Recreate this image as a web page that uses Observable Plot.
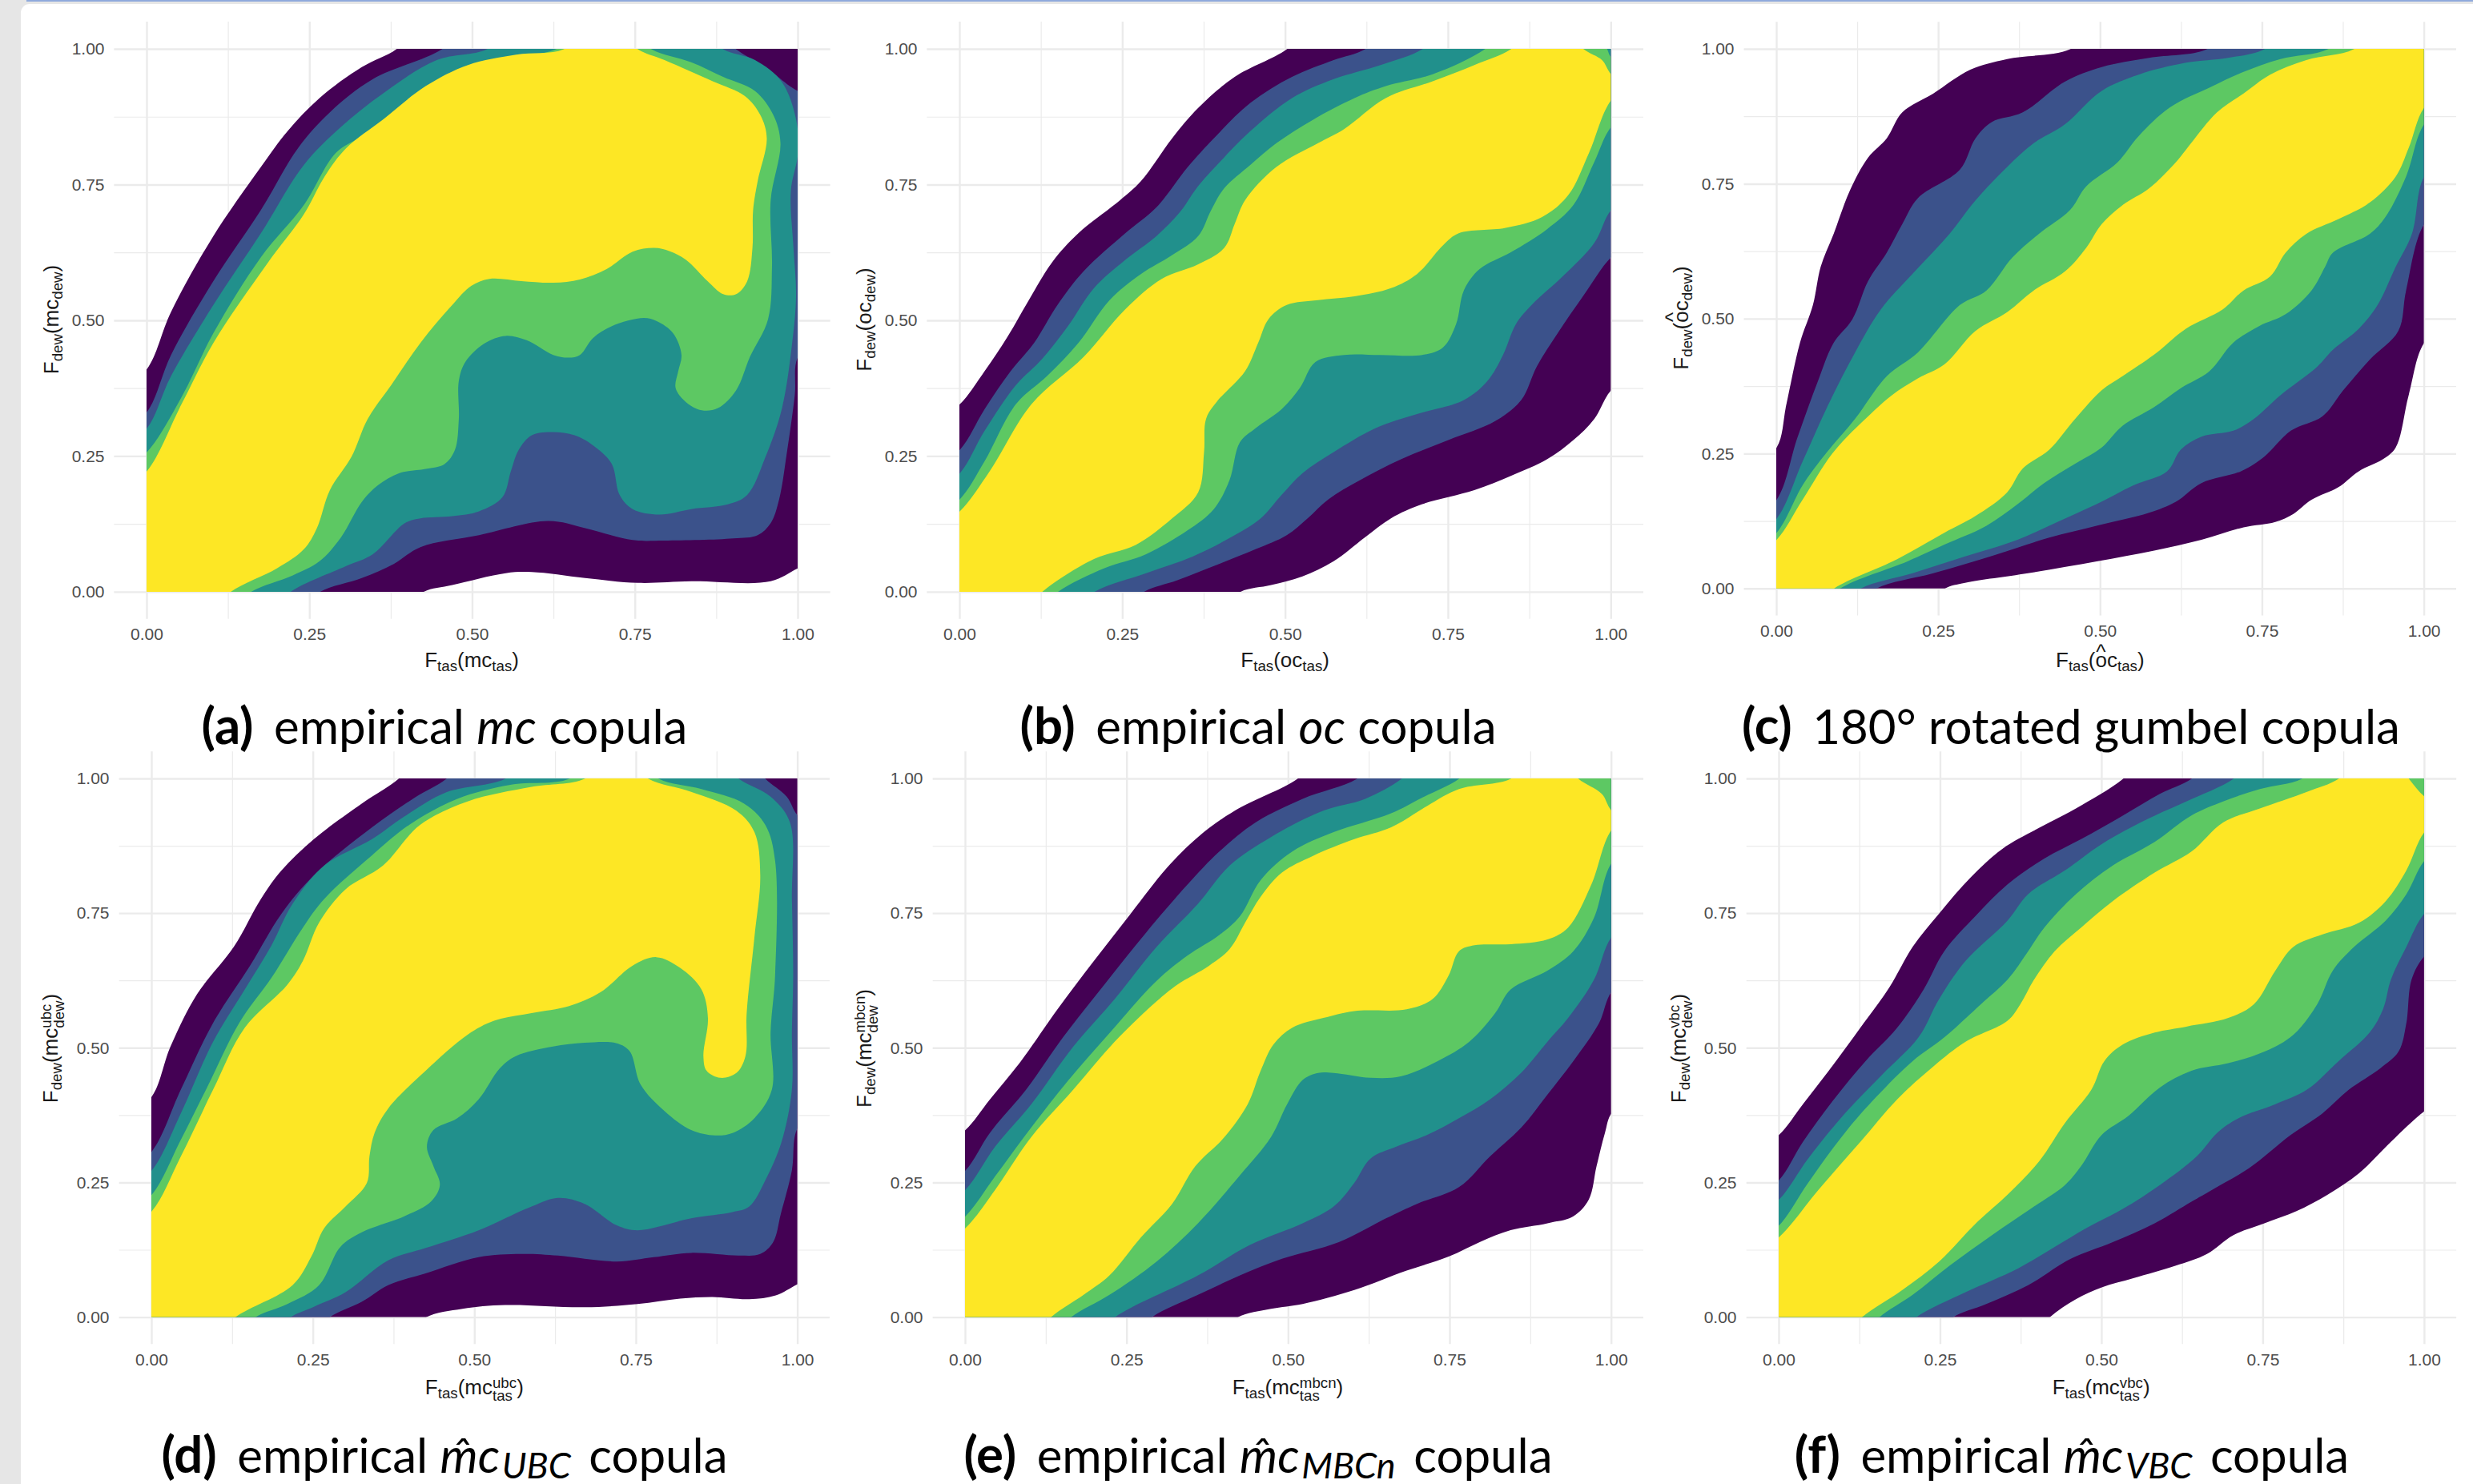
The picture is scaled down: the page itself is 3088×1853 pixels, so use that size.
<!DOCTYPE html>
<html><head><meta charset="utf-8">
<script src="https://cdn.jsdelivr.net/npm/d3@7"></script>
<script src="https://cdn.jsdelivr.net/npm/@observablehq/plot@0.6"></script>
<style>
html,body{margin:0;padding:0;background:#fff;width:3088px;height:1853px;overflow:hidden;position:relative;font-family:"Liberation Sans",sans-serif;}
.strip{position:absolute;left:0;top:0;width:26px;height:1853px;background:#e6e6e6;}
.band{position:absolute;left:0;top:0;width:3088px;height:5px;background:#e6e6e6;}
.topline{position:absolute;left:33px;top:0;width:3055px;height:2px;background:#8fa9dc;}
.corner{position:absolute;left:26px;top:5px;width:14px;height:14px;background:#e6e6e6;}
.corner:after{content:"";position:absolute;left:0;top:0;width:14px;height:14px;background:#fff;border-top-left-radius:11px;}
.al{position:absolute;font-size:26px;line-height:1;color:#1a1a1a;white-space:nowrap;}
.al sub{font-size:.72em;line-height:0;vertical-align:-.28em;}
.ss{display:inline-block;vertical-align:-.42em;font-size:.72em;line-height:.86;text-align:left;}
.ss span{display:block;}
.hat{position:relative;}
.hat b{position:absolute;font-weight:400;left:.03em;top:-.3em;}
.cap{position:absolute;font-family:Lato,sans-serif;font-size:60px;line-height:1;color:#000;white-space:nowrap;transform:translate(-50%,-50%);}
.cap b{font-weight:700;margin-right:.16em;font-size:1.06em;}
.cap sub{font-size:.75em;line-height:0;vertical-align:-.16em;margin-right:.16em;margin-left:.06em;}
</style></head><body>
<div class="strip"></div><div class="band"></div><div class="corner"></div><div class="topline"></div>
<script>
const levelColors = ["#440154","#3b528b","#21908c","#5dc863","#fde725"];
const majorTicks = [0,0.25,0.5,0.75,1];
const minorTicks = [0.125,0.375,0.625,0.875];

// (a) empirical mc copula
const aDark = [[[0,.411],[.037,.516],[.102,.656],[.175,.783],[.216,.849],[.265,.910],[.330,.967],[.383,1]],
 [[1,.044],[.958,.020],[.836,.020],[.754,.017],[.673,.026],[.591,.037],[.551,.035],[.469,.013],[.424,0]]];
const aBlue = [[[0,.332],[.037,.437],[.102,.573],[.175,.704],[.232,.818],[.281,.884],[.347,.945],[.453,1]],
 [[.905,1],[.950,.967],[.983,.936],[1,.923]],
 [[1,.433],[.995,.363],[.983,.258],[.971,.171],[.958,.127],[.938,.105],[.901,.099],[.795,.095],[.746,.096],[.673,.118],[.616,.131],[.510,.105],[.420,.083],[.379,.052],[.330,.026],[.265,0]]];
const aTeal = [[[0,.302],[.037,.398],[.102,.529],[.175,.661],[.241,.787],[.298,.857],[.363,.919],[.445,.980],[.522,1]],
 [[.885,1],[.934,.98],[.975,.94],[.997,.871],[1,.809],[.989,.739],[.993,.634],[.997,.547],[.991,.459],[.975,.337],[.950,.249],[.922,.179],[.893,.162],[.836,.153],[.787,.143],[.746,.153],[.726,.179],[.714,.236],[.689,.267],[.657,.289],[.624,.295],[.591,.289],[.571,.262],[.559,.223],[.546,.175],[.510,.149],[.469,.140],[.420,.136],[.396,.127],[.347,.070],[.306,.048],[.220,0]]];
const aGreen = [[[0,.258],[.053,.359],[.102,.477],[.175,.617],[.241,.713],[.290,.809],[.330,.840],[.396,.897],[.469,.958],[.551,.984],[.628,1]],
 [[.775,1],[.836,.976],[.885,.949],[.934,.923],[.962,.879],[.973,.827],[.958,.722],[.960,.599],[.954,.503],[.926,.433],[.905,.372],[.877,.339],[.852,.335],[.828,.350],[.812,.376],[.816,.407],[.821,.437],[.808,.477],[.783,.499],[.763,.505],[.714,.490],[.685,.468],[.665,.437],[.648,.432],[.624,.437],[.583,.464],[.551,.472],[.518,.458],[.489,.424],[.479,.389],[.479,.319],[.473,.262],[.457,.236],[.428,.227],[.387,.219],[.355,.197],[.330,.166],[.298,.101],[.265,.057],[.224,.031],[.159,0]]];
const aYellow = [[[0,.223],[.053,.346],[.102,.459],[.184,.604],[.241,.696],[.273,.766],[.306,.818],[.363,.871],[.428,.932],[.493,.971],[.567,.990],[.640,1]],
 [[.754,1],[.795,.980],[.869,.941],[.918,.914],[.942,.879],[.952,.836],[.938,.757],[.931,.704],[.930,.634],[.922,.573],[.905,.549],[.885,.549],[.861,.573],[.828,.612],[.803,.628],[.779,.634],[.746,.627],[.706,.595],[.665,.576],[.624,.570],[.575,.573],[.526,.577],[.498,.564],[.469,.529],[.420,.459],[.375,.381],[.339,.319],[.314,.249],[.281,.188],[.261,.118],[.241,.079],[.200,.044],[.128,0]]];

// (b) empirical oc copula
const bDark = [[[0,.346],[.038,.407],[.074,.472],[.106,.538],[.142,.608],[.182,.661],[.246,.722],[.278,.757],[.326,.836],[.366,.892],[.422,.949],[.502,1]],
 [[1,.372],[.974,.319],[.942,.280],[.902,.245],[.846,.214],[.790,.188],[.710,.162],[.662,.136],[.622,.101],[.574,.057],[.526,.029],[.478,.013],[.430,0]]];
const bBlue = [[[0,.262],[.038,.337],[.078,.407],[.114,.459],[.150,.529],[.190,.591],[.254,.661],[.302,.709],[.350,.783],[.390,.836],[.446,.901],[.510,.949],[.574,.980],[.622,1]],
 [[1,.617],[.958,.547],[.918,.477],[.886,.416],[.862,.354],[.822,.315],[.750,.280],[.678,.245],[.614,.206],[.566,.171],[.534,.136],[.502,.105],[.454,.079],[.398,.052],[.334,.022],[.282,0]]];
const bTeal = [[[0,.219],[.038,.297],[.086,.381],[.126,.429],[.166,.490],[.206,.560],[.254,.612],[.302,.656],[.338,.700],[.366,.748],[.406,.801],[.446,.849],[.510,.910],[.574,.945],[.646,.971],[.710,1]],
 [[1,.704],[.974,.643],[.926,.582],[.878,.529],[.854,.494],[.834,.437],[.810,.389],[.774,.354],[.702,.328],[.638,.302],[.574,.258],[.526,.219],[.494,.179],[.462,.136],[.422,.105],[.358,.066],[.286,.035],[.206,0]]];
const bGreen = [[[0,.171],[.038,.241],[.086,.346],[.134,.398],[.182,.459],[.230,.538],[.278,.586],[.326,.621],[.366,.656],[.386,.704],[.406,.744],[.446,.787],[.486,.827],[.542,.870],[.606,.910],[.654,.932],[.726,.954],[.806,1]],
 [[.994,1],[1,.985]],
 [[1,.857],[.974,.792],[.942,.713],[.902,.669],[.846,.626],[.798,.595],[.774,.556],[.762,.494],[.742,.451],[.710,.437],[.646,.437],[.590,.437],[.546,.424],[.522,.376],[.494,.337],[.454,.302],[.430,.276],[.414,.206],[.390,.153],[.350,.114],[.286,.070],[.222,.044],[.150,0]]];
const bYellow = [[[0,.149],[.046,.223],[.110,.346],[.190,.433],[.254,.521],[.310,.577],[.366,.604],[.406,.634],[.422,.678],[.438,.722],[.486,.783],[.550,.827],[.590,.853],[.654,.910],[.726,.941],[.790,.971],[.846,1]],
 [[.958,1],[.986,.980],[1,.954]],
 [[1,.906],[.966,.809],[.934,.731],[.894,.691],[.838,.671],[.766,.661],[.742,.639],[.702,.586],[.662,.560],[.606,.545],[.550,.538],[.502,.529],[.474,.503],[.458,.459],[.438,.407],[.394,.350],[.378,.319],[.375,.258],[.366,.184],[.326,.136],[.270,.087],[.206,.061],[.126,0]]];

// (c) 180 degree rotated gumbel copula
const cDark = [[[0,.262],[.015,.342],[.036,.456],[.056,.526],[.068,.597],[.088,.658],[.113,.738],[.141,.799],[.170,.835],[.194,.883],[.242,.918],[.299,.962],[.356,.982],[.453,1]],
 [[1,.456],[.976,.359],[.956,.262],[.936,.240],[.899,.218],[.867,.188],[.826,.165],[.798,.139],[.770,.124],[.721,.114],[.656,.091],[.583,.071],[.494,.051],[.388,.029],[.291,.011],[.259,0]]];
const cBlue = [[[0,.165],[.032,.280],[.064,.386],[.088,.456],[.117,.500],[.141,.570],[.170,.623],[.194,.676],[.218,.724],[.283,.777],[.307,.835],[.332,.865],[.380,.883],[.445,.940],[.502,.967],[.575,.984],[.664,1]],
 [[1,.676],[.972,.553],[.960,.478],[.916,.425],[.875,.368],[.843,.320],[.794,.293],[.753,.245],[.717,.218],[.656,.196],[.616,.161],[.575,.141],[.494,.117],[.421,.095],[.340,.064],[.242,.029],[.153,0]]];
const cTeal = [[[0,.130],[.040,.236],[.080,.342],[.121,.438],[.161,.518],[.210,.584],[.267,.658],[.307,.720],[.356,.782],[.397,.826],[.445,.861],[.502,.923],[.559,.953],[.632,.975],[.697,.984],[.753,1]],
 [[1,.764],[.981,.658],[.956,.597],[.928,.526],[.899,.482],[.859,.443],[.835,.412],[.778,.359],[.737,.315],[.705,.293],[.656,.282],[.624,.258],[.603,.218],[.551,.192],[.494,.157],[.437,.126],[.372,.091],[.291,.060],[.210,.029],[.129,0]]];
const cGreen = [[[0,.104],[.040,.192],[.072,.245],[.121,.315],[.170,.394],[.218,.438],[.283,.526],[.324,.553],[.364,.614],[.405,.658],[.453,.702],[.478,.746],[.526,.790],[.559,.839],[.607,.892],[.672,.931],[.721,.958],[.778,.982],[.851,1]],
 [[1,.861],[.972,.764],[.940,.689],[.916,.658],[.859,.623],[.847,.597],[.826,.553],[.786,.509],[.745,.487],[.705,.456],[.668,.403],[.624,.372],[.583,.337],[.534,.302],[.502,.262],[.461,.232],[.413,.196],[.372,.157],[.324,.117],[.259,.082],[.202,.051],[.097,0]]];
const cYellow = [[[0,.091],[.040,.165],[.088,.254],[.145,.324],[.178,.359],[.218,.390],[.259,.416],[.307,.478],[.356,.513],[.397,.553],[.445,.588],[.478,.632],[.502,.676],[.534,.711],[.575,.742],[.616,.790],[.640,.826],[.680,.883],[.721,.918],[.762,.953],[.818,.980],[.891,1]],
 [[1,.892],[.976,.817],[.956,.764],[.916,.716],[.867,.685],[.818,.658],[.786,.623],[.762,.579],[.721,.553],[.689,.518],[.632,.482],[.583,.434],[.534,.394],[.502,.368],[.461,.315],[.421,.258],[.380,.223],[.356,.179],[.307,.135],[.259,.104],[.186,.055],[.088,0]]];

// (d) empirical mc UBC copula
const dDark = [[[0,.410],[.029,.503],[.070,.600],[.127,.688],[.169,.777],[.201,.830],[.251,.888],[.325,.954],[.382,1]],
 [[1,.062],[.966,.041],[.925,.034],[.868,.038],[.818,.035],[.752,.025],[.670,.019],[.547,.023],[.481,.016],[.424,0]]];
const dBlue = [[[0,.308],[.045,.423],[.095,.547],[.152,.653],[.201,.750],[.251,.821],[.341,.910],[.407,.965],[.456,1]],
 [[.950,1],[.983,.967],[1,.932]],
 [[1,.352],[.991,.273],[.974,.193],[.962,.140],[.942,.118],[.909,.115],[.835,.120],[.777,.112],[.720,.104],[.629,.115],[.572,.118],[.506,.112],[.424,.082],[.366,.060],[.325,.029],[.275,0]]];
const dTeal = [[[0,.273],[.045,.379],[.095,.512],[.144,.609],[.185,.690],[.218,.768],[.267,.839],[.341,.888],[.391,.930],[.456,.975],[.547,1]],
 [[.909,1],[.958,.967],[.988,.919],[.991,.777],[.993,.635],[.991,.529],[.991,.423],[.975,.326],[.950,.255],[.925,.206],[.900,.196],[.835,.184],[.752,.162],[.720,.171],[.670,.211],[.629,.222],[.588,.206],[.506,.162],[.424,.129],[.366,.106],[.300,.047],[.251,.020],[.214,0]]];
const dGreen = [[[0,.228],[.045,.330],[.086,.428],[.136,.548],[.185,.630],[.234,.724],[.267,.777],[.341,.858],[.399,.915],[.473,.963],[.555,.989],[.646,1]],
 [[.785,1],[.851,.981],[.917,.954],[.950,.914],[.965,.848],[.965,.635],[.958,.529],[.960,.423],[.933,.370],[.900,.343],[.872,.338],[.835,.348],[.794,.383],[.757,.432],[.740,.494],[.720,.509],[.670,.510],[.621,.503],[.563,.485],[.539,.463],[.506,.405],[.473,.370],[.436,.348],[.426,.317],[.436,.281],[.446,.246],[.432,.215],[.391,.188],[.325,.158],[.292,.131],[.259,.060],[.210,.025],[.160,0]]];
const dYellow = [[[0,.197],[.045,.299],[.095,.423],[.144,.538],[.210,.618],[.234,.662],[.259,.733],[.300,.795],[.358,.839],[.415,.914],[.489,.958],[.588,.985],[.670,1]],
 [[.769,1],[.835,.976],[.905,.941],[.933,.901],[.942,.821],[.933,.706],[.921,.565],[.919,.485],[.905,.454],[.880,.445],[.859,.458],[.854,.485],[.861,.556],[.851,.609],[.818,.649],[.781,.669],[.744,.653],[.695,.604],[.646,.578],[.588,.565],[.530,.551],[.489,.525],[.424,.458],[.366,.388],[.345,.343],[.337,.299],[.333,.250],[.300,.206],[.267,.166],[.247,.113],[.218,.060],[.129,0]]];

// (e) empirical mc MBCn copula
const eDark = [[[0,.348],[.038,.405],[.086,.476],[.143,.573],[.199,.662],[.256,.750],[.312,.835],[.360,.892],[.417,.941],[.514,1]],
 [[1,.379],[.990,.343],[.977,.281],[.965,.219],[.941,.188],[.901,.175],[.844,.162],[.796,.140],[.748,.113],[.683,.087],[.602,.051],[.522,.025],[.473,.016],[.421,0]]];
const eBlue = [[[0,.273],[.038,.343],[.094,.423],[.151,.520],[.215,.618],[.280,.715],[.344,.804],[.393,.865],[.449,.919],[.522,.963],[.606,1]],
 [[1,.604],[.981,.547],[.941,.476],[.901,.414],[.860,.352],[.812,.299],[.764,.242],[.699,.211],[.651,.184],[.578,.140],[.490,.109],[.425,.078],[.360,.042],[.288,0]]];
const eTeal = [[[0,.237],[.046,.317],[.102,.396],[.167,.503],[.231,.591],[.296,.688],[.360,.768],[.409,.839],[.473,.892],[.554,.941],[.619,.963],[.675,1]],
 [[1,.706],[.973,.627],[.933,.556],[.901,.512],[.860,.454],[.812,.405],[.764,.370],[.715,.339],[.667,.317],[.627,.295],[.602,.250],[.570,.206],[.522,.175],[.441,.135],[.360,.078],[.231,0]]];
const eGreen = [[[0,.188],[.046,.262],[.102,.353],[.159,.440],[.223,.528],[.296,.625],[.344,.672],[.393,.710],[.425,.745],[.457,.812],[.506,.865],[.570,.901],[.659,.936],[.707,.965],[.764,1]],
 [[1,.843],[.973,.742],[.941,.680],[.901,.644],[.844,.609],[.820,.565],[.780,.512],[.731,.476],[.675,.448],[.627,.445],[.570,.454],[.546,.454],[.522,.441],[.498,.396],[.473,.335],[.425,.264],[.360,.175],[.296,.104],[.223,.042],[.163,0]]];
const eYellow = [[[0,.166],[.046,.237],[.102,.335],[.167,.423],[.231,.512],[.296,.587],[.328,.618],[.377,.653],[.409,.684],[.433,.733],[.457,.781],[.490,.826],[.538,.857],[.602,.888],[.659,.910],[.715,.950],[.764,.981],[.844,1]],
 [[.949,1],[.985,.972],[1,.941]],
 [[1,.905],[.969,.804],[.933,.724],[.901,.702],[.844,.693],[.788,.691],[.764,.680],[.748,.635],[.723,.591],[.683,.572],[.602,.569],[.554,.556],[.506,.538],[.477,.507],[.457,.458],[.437,.396],[.401,.335],[.356,.281],[.320,.211],[.272,.149],[.223,.078],[.183,.042],[.132,0]]];

// (f) empirical mc VBC copula
const fDark = [[[0,.339],[.037,.396],[.077,.458],[.126,.538],[.171,.613],[.207,.688],[.248,.750],[.297,.817],[.346,.870],[.411,.914],[.460,.945],[.533,1]],
 [[1,.383],[.948,.326],[.899,.268],[.850,.228],[.801,.197],[.752,.175],[.704,.153],[.663,.118],[.614,.096],[.549,.073],[.500,.056],[.460,.034],[.419,0]]];
const fBlue = [[[0,.255],[.037,.326],[.085,.405],[.134,.476],[.183,.538],[.224,.609],[.256,.680],[.305,.746],[.354,.804],[.411,.852],[.468,.888],[.533,.932],[.590,.972],[.639,1]],
 [[1,.671],[.980,.627],[.972,.547],[.960,.494],[.932,.463],[.883,.423],[.842,.379],[.793,.339],[.728,.277],[.671,.237],[.639,.215],[.582,.175],[.517,.140],[.452,.109],[.386,.060],[.321,.025],[.269,0]]];
const fTeal = [[[0,.219],[.045,.295],[.102,.379],[.159,.450],[.216,.520],[.248,.591],[.289,.662],[.354,.737],[.386,.786],[.443,.830],[.500,.879],[.574,.927],[.631,.958],[.704,1]],
 [[1,.750],[.972,.688],[.948,.627],[.936,.573],[.915,.529],[.867,.476],[.818,.423],[.769,.396],[.712,.370],[.679,.343],[.647,.299],[.590,.246],[.533,.202],[.476,.166],[.427,.131],[.370,.091],[.289,.047],[.212,0]]];
const fGreen = [[[0,.171],[.045,.250],[.102,.343],[.151,.410],[.207,.476],[.256,.520],[.313,.582],[.354,.627],[.386,.680],[.411,.724],[.460,.786],[.517,.839],[.582,.883],[.639,.932],[.688,.958],[.745,.981],[.810,1]],
 [[1,.848],[.972,.786],[.940,.737],[.891,.688],[.858,.644],[.834,.582],[.797,.525],[.753,.494],[.696,.472],[.639,.458],[.590,.427],[.541,.374],[.500,.339],[.468,.281],[.443,.246],[.395,.206],[.330,.153],[.264,.096],[.207,.042],[.155,0]]];
const fYellow = [[[0,.149],[.061,.237],[.126,.326],[.183,.405],[.240,.467],[.289,.512],[.354,.551],[.374,.582],[.395,.627],[.427,.680],[.468,.724],[.517,.773],[.582,.826],[.639,.865],[.688,.919],[.745,.945],[.818,.976],[.867,1]],
 [[.976,1],[1,.967]],
 [[1,.901],[.972,.830],[.940,.773],[.899,.733],[.842,.711],[.797,.688],[.769,.644],[.736,.582],[.696,.556],[.631,.540],[.582,.529],[.533,.507],[.504,.476],[.484,.423],[.443,.361],[.403,.290],[.354,.228],[.305,.175],[.248,.104],[.191,.051],[.128,0]]];

const panelLevels = {
  a:[aDark,aBlue,aTeal,aGreen,aYellow], b:[bDark,bBlue,bTeal,bGreen,bYellow], c:[cDark,cBlue,cTeal,cGreen,cYellow],
  d:[dDark,dBlue,dTeal,dGreen,dYellow], e:[eDark,eBlue,eTeal,eGreen,eYellow], f:[fDark,fBlue,fTeal,fGreen,fYellow]
};

// layout, in page pixels: the [0,1] square of each panel
const layout = {
  a:{l:182.6,r:995.6,t:60.5,b:738.4,ylx:64,xly:824,capx:555,capy:905},
  b:{l:1198,r:2011.3,t:60.5,b:738.4,ylx:1079,xly:824,capx:1571,capy:905},
  c:{l:2218,r:3026.6,t:60.5,b:734.3,ylx:2099,xly:824,capx:2586,capy:905},
  d:{l:189,r:995.6,t:972.4,b:1645,ylx:66,xly:1735,capx:555,capy:1815},
  e:{l:1204.6,r:2011.3,t:972.4,b:1645,ylx:1082,xly:1735,capx:1571,capy:1815},
  f:{l:2220.7,r:3026.6,t:972.4,b:1645,ylx:2099,xly:1735,capx:2587,capy:1815}
};
const hatOc = '<span class="hat">oc<b>^</b></span>';
const ssub = (a,b)=>`<span class="ss"><span>${a}</span><span>${b}</span></span>`;
const texts = {
  a:{x:'F<sub>tas</sub>(mc<sub>tas</sub>)',y:'F<sub>dew</sub>(mc<sub>dew</sub>)',cap:'<b>(a)</b> empirical <i>mc</i> copula'},
  b:{x:'F<sub>tas</sub>(oc<sub>tas</sub>)',y:'F<sub>dew</sub>(oc<sub>dew</sub>)',cap:'<b>(b)</b> empirical <i>oc</i> copula'},
  c:{x:`F<sub>tas</sub>(${hatOc}<sub>tas</sub>)`,y:`F<sub>dew</sub>(${hatOc}<sub>dew</sub>)`,cap:'<b>(c)</b> 180° rotated gumbel copula'},
  d:{x:`F<sub>tas</sub>(mc${ssub('ubc','tas')})`,y:`F<sub>dew</sub>(mc${ssub('ubc','dew')})`,cap:'<b>(d)</b> empirical <i>m̂c</i><sub><i>UBC</i></sub> copula'},
  e:{x:`F<sub>tas</sub>(mc${ssub('mbcn','tas')})`,y:`F<sub>dew</sub>(mc${ssub('mbcn','dew')})`,cap:'<b>(e)</b> empirical <i>m̂c</i><sub><i>MBCn</i></sub> copula'},
  f:{x:`F<sub>tas</sub>(mc${ssub('vbc','tas')})`,y:`F<sub>dew</sub>(mc${ssub('vbc','dew')})`,cap:'<b>(f)</b> empirical <i>m̂c</i><sub><i>VBC</i></sub> copula'}
};

// The contours run past the frame and are clipped by it, so they meet the edge without rounding.
const sideOf = ([x,y]) => y>=1 ? 0 : x>=1 ? 1 : y<=0 ? 2 : 3;
const outsidePoint = (p,q) => {
  let dx=p[0]-q[0], dy=p[1]-q[1], n=Math.hypot(dx,dy)||1;
  let o=[p[0]+dx/n*.04, p[1]+dy/n*.04], s=sideOf(p);
  if(s===0) o[1]=1.04; if(s===1) o[0]=1.04; if(s===2) o[1]=-.04; if(s===3) o[0]=-.04;
  return o;
};
const corners=[[1.3,1.3],[1.3,-.3],[-.3,-.3],[-.3,1.3]];
function ring(segments){
  const pts=[]; let prevSide=null;
  for(const seg of segments){
    const s=sideOf(seg[0]);
    if(prevSide!==null){ for(let k=prevSide;k!==s;k=(k+1)%4) pts.push(corners[k]); }
    pts.push(outsidePoint(seg[0],seg[1]),...seg,outsidePoint(seg[seg.length-1],seg[seg.length-2]));
    prevSide=sideOf(seg[seg.length-1]);
  }
  for(let k=prevSide;k!==3;k=(k+1)%4) pts.push(corners[k]);
  return pts;
}

const mL=110,mR=60,mT=50,mB=90;
for(const id of Object.keys(panelLevels)){
  const L=layout[id];
  const marks=[
    Plot.ruleX(minorTicks,{y1:-.05,y2:1.05,stroke:"#ebebeb",strokeWidth:1.2}),
    Plot.ruleY(minorTicks,{x1:-.05,x2:1.05,stroke:"#ebebeb",strokeWidth:1.2}),
    Plot.ruleX(majorTicks,{y1:-.05,y2:1.05,stroke:"#ebebeb",strokeWidth:2.4}),
    Plot.ruleY(majorTicks,{x1:-.05,x2:1.05,stroke:"#ebebeb",strokeWidth:2.4}),
    ...panelLevels[id].map((segs,i)=>Plot.line(ring(segs),{x:d=>d[0],y:d=>d[1],fill:levelColors[i],stroke:"none",curve:"catmull-rom",clip:true})),
    Plot.axisX(majorTicks,{tickSize:0,tickPadding:45,tickFormat:".2f",fontSize:21,fill:"#4d4d4d",label:null,anchor:"bottom"}),
    Plot.axisY(majorTicks,{tickSize:0,tickPadding:53,tickFormat:".2f",fontSize:21,fill:"#4d4d4d",label:null,anchor:"left"})
  ];
  const svg=Plot.plot({
    width:L.r-L.l+mL+mR,height:L.b-L.t+mT+mB,
    marginLeft:mL,marginRight:mR,marginTop:mT,marginBottom:mB,
    x:{domain:[0,1]},y:{domain:[0,1]},
    style:{position:"absolute",left:(L.l-mL)+"px",top:(L.t-mT)+"px",background:"transparent",maxWidth:"none",fontFamily:"'Liberation Sans',sans-serif"},
    marks
  });
  document.body.appendChild(svg);
  const T=texts[id];
  const xl=document.createElement("div");xl.className="al";xl.innerHTML=T.x;
  xl.style.cssText=`left:${(L.l+L.r)/2}px;top:${L.xly}px;transform:translate(-50%,-50%)`;
  document.body.appendChild(xl);
  const yl=document.createElement("div");yl.className="al";yl.innerHTML=T.y;
  yl.style.cssText=`left:${L.ylx}px;top:${(L.t+L.b)/2}px;transform:translate(-50%,-50%) rotate(-90deg)`;
  document.body.appendChild(yl);
  const cap=document.createElement("div");cap.className="cap";cap.innerHTML=T.cap;
  cap.style.cssText=`left:${L.capx}px;top:${L.capy}px`;
  document.body.appendChild(cap);
}
</script></body></html>
